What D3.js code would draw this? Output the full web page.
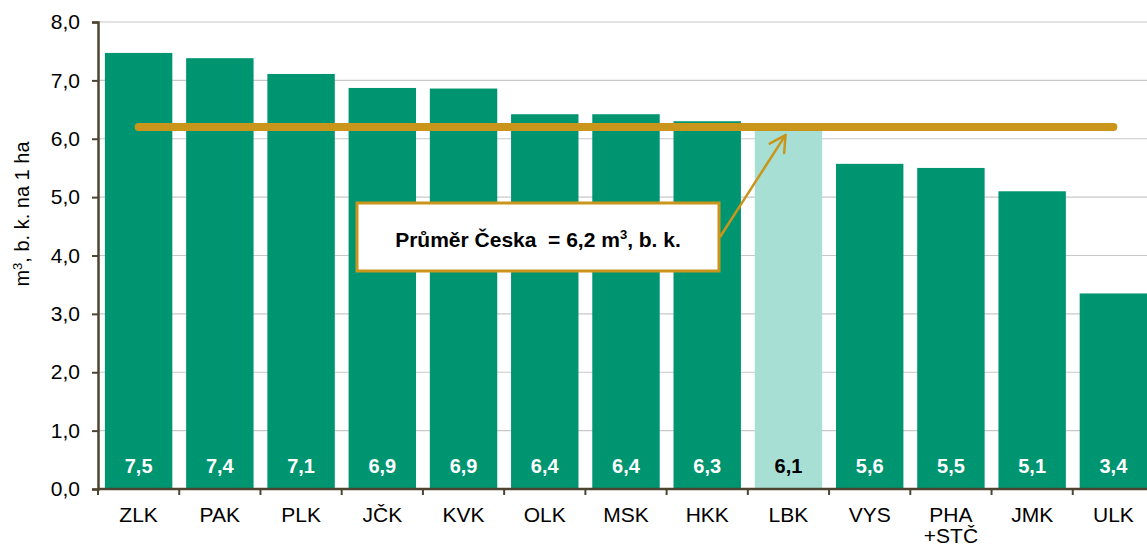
<!DOCTYPE html>
<html>
<head>
<meta charset="utf-8">
<script src="https://cdn.jsdelivr.net/npm/d3@7"></script>
<style>
  body { margin: 0; background: #fff; }
  text { font-family: "Liberation Sans", Arial, sans-serif; }
</style>
</head>
<body>
<svg id="chart" width="1147" height="546"></svg>
<script>
// data
var regions = ["ZLK", "PAK", "PLK", "JČK", "KVK", "OLK", "MSK", "HKK", "LBK", "VYS", "PHA\n+STČ", "JMK", "ULK"];
var values = [7.47, 7.38, 7.11, 6.87, 6.86, 6.42, 6.42, 6.3, 6.14, 5.57, 5.5, 5.1, 3.35];
var labels = ["7,5", "7,4", "7,1", "6,9", "6,9", "6,4", "6,4", "6,3", "6,1", "5,6", "5,5", "5,1", "3,4"];
var highlight = "LBK";
var average = 6.2;
var yTicks = [0, 1, 2, 3, 4, 5, 6, 7, 8];

var svg = d3.select("#chart");
var plotLeft = 98, plotRight = 1154, plotTop = 22, plotBottom = 489;
var gold = "#c9951a", axisColor = "#4d4532";

var x = d3.scaleBand().domain(regions).range([plotLeft, plotRight]).paddingInner(0.17).paddingOuter(0.085);
var y = d3.scaleLinear().domain([0, 8]).range([plotBottom, plotTop]);

// gridlines
svg.append("g").selectAll("line").data(yTicks.slice(1)).enter().append("line")
    .attr("x1", plotLeft).attr("x2", 1147)
    .attr("y1", function (d) { return y(d); })
    .attr("y2", function (d) { return y(d); })
    .attr("stroke", "#c8c8c8").attr("stroke-width", 1.2);

// bars
svg.append("g").selectAll("rect").data(regions).enter().append("rect")
    .attr("x", function (d) { return x(d); })
    .attr("width", x.bandwidth())
    .attr("y", function (d, i) { return y(values[i]); })
    .attr("height", function (d, i) { return plotBottom - y(values[i]); })
    .attr("fill", function (d) { return d == highlight ? "#a7dfd5" : "#009571"; });

// value labels
svg.append("g").selectAll("text").data(regions).enter().append("text")
    .attr("x", function (d) { return x(d) + x.bandwidth() / 2; })
    .attr("y", 473)
    .attr("text-anchor", "middle")
    .attr("font-size", 20).attr("font-weight", "bold")
    .attr("fill", function (d) { return d == highlight ? "#000" : "#fff"; })
    .text(function (d, i) { return labels[i]; });

// average line
svg.append("line")
    .attr("x1", x(regions[0]) + x.bandwidth() / 2)
    .attr("x2", x(regions[regions.length - 1]) + x.bandwidth() / 2)
    .attr("y1", y(average)).attr("y2", y(average))
    .attr("stroke", gold).attr("stroke-width", 8).attr("stroke-linecap", "round");

// y axis
var yAxis = svg.append("g").attr("transform", "translate(" + plotLeft + ",0)")
    .call(d3.axisLeft(y).tickValues(yTicks).tickSize(6).tickPadding(12)
        .tickFormat(function (d) { return d3.format(".1f")(d).replace(".", ","); }));
yAxis.select(".domain").attr("stroke", axisColor).attr("stroke-width", 2.5);
yAxis.selectAll(".tick line").attr("stroke", axisColor).attr("stroke-width", 2);
yAxis.selectAll(".tick text").attr("font-size", 21).attr("fill", "#000")
    .attr("font-family", "Liberation Sans, Arial, sans-serif");

// x axis
var xAxis = svg.append("g").attr("transform", "translate(0," + plotBottom + ")");
xAxis.append("line").attr("x1", plotLeft).attr("x2", 1147).attr("y1", 0).attr("y2", 0)
    .attr("stroke", axisColor).attr("stroke-width", 2.5);
xAxis.selectAll(".xt").data(regions).enter().append("line")
    .attr("class", "xt")
    .attr("x1", function (d) { return x(d) - x.step() * x.paddingInner() / 2; })
    .attr("x2", function (d) { return x(d) - x.step() * x.paddingInner() / 2; })
    .attr("y1", 0).attr("y2", 6)
    .attr("stroke", axisColor).attr("stroke-width", 2);
xAxis.selectAll(".xl").data(regions).enter().append("text")
    .attr("class", "xl")
    .attr("text-anchor", "middle")
    .attr("font-size", 21)
    .attr("transform", function (d) { return "translate(" + (x(d) + x.bandwidth() / 2) + ",33)"; })
    .each(function (d) {
        var parts = d.split("\n");
        var t = d3.select(this);
        parts.forEach(function (p, i) {
            t.append("tspan").attr("x", 0).attr("dy", i ? "1em" : 0).text(p);
        });
    });

// y title
svg.append("text")
    .attr("transform", "translate(29,214) rotate(-90)")
    .attr("text-anchor", "middle")
    .attr("font-size", 20)
    .html('m<tspan dy="-7" font-size="13">3</tspan><tspan dy="7">, b. k. na 1 ha</tspan>');

// callout arrow
var tipX = x(highlight) + x.bandwidth() / 2 - 3, tipY = y(average) + 8;
var startX = 720, startY = 237;
svg.append("line")
    .attr("x1", startX).attr("y1", startY).attr("x2", tipX).attr("y2", tipY)
    .attr("stroke", gold).attr("stroke-width", 2.5);
var ang = Math.atan2(tipY - startY, tipX - startX);
[0.5, -0.5].forEach(function (a) {
    svg.append("line")
        .attr("x1", tipX).attr("y1", tipY)
        .attr("x2", tipX - 18 * Math.cos(ang + a)).attr("y2", tipY - 18 * Math.sin(ang + a))
        .attr("stroke", gold).attr("stroke-width", 2.5).attr("stroke-linecap", "round");
});

// callout box
svg.append("rect")
    .attr("x", 357).attr("y", 203).attr("width", 362).attr("height", 68)
    .attr("fill", "#fff").attr("stroke", gold).attr("stroke-width", 3);
svg.append("text")
    .attr("x", 538).attr("y", 247)
    .attr("text-anchor", "middle")
    .attr("font-size", 21).attr("font-weight", "bold")
    .html('Průměr Česka \u00a0= 6,2 m<tspan dy="-8" font-size="13">3</tspan><tspan dy="8">, b. k.</tspan>');
</script>
</body>
</html>
